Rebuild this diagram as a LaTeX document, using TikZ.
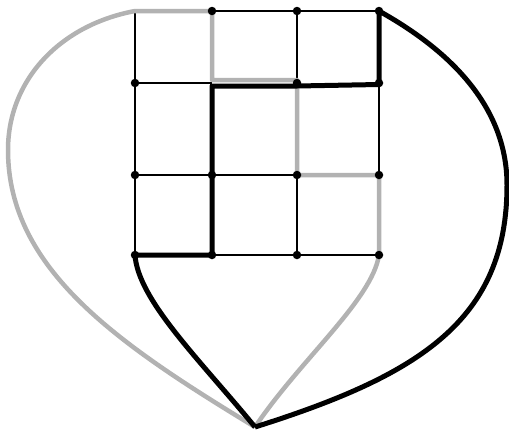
\documentclass[tikz,border=0pt]{standalone}
\usetikzlibrary{calc}
\begin{document}
\begin{tikzpicture}[x=1pt, y=-1pt,
    thin edge/.style={line width=2.2pt},
    black path/.style={line width=5pt, line join=round},
    gray path/.style={line width=4.5pt, color=gray!60, line join=round},
    dot/.style={circle, fill, inner sep=0pt, minimum size=8.5pt},
]
    \useasboundingbox (0,0) rectangle (509,432);
    % grid vertices
    \foreach \c/\x in {0/135, 1/212, 2/297, 3/379}
        \foreach \r/\y in {0/11, 1/83, 2/175, 3/255}
            \coordinate (v\c\r) at (\x,\y);
    \coordinate (bot) at (255,427);
    \coordinate (lft) at (8,150);
    \coordinate (rgt) at (507,185);

    % thin grid edges
    \foreach \a/\b in {v10/v20, v20/v30, v01/v11, v02/v12, v12/v22, v13/v23, v23/v33,
                       v00/v01, v01/v02, v02/v03, v20/v21, v22/v23, v31/v32}
        \draw[thin edge] (\a) -- (\b);

    % gray cycle
    \draw[gray path] (bot) .. controls (120,345) and (8,270) .. (lft)
        .. controls (8,80) and (60,25) .. (v00) -- (v10)
        -- ([yshift=3pt]v11) -- ([yshift=3pt]v21) -- (v22) -- (v32) -- (v33)
        .. controls (372,300) and (300,360) .. (bot);

    % black cycle
    \draw[black path] (bot) .. controls (200,360) and (138,300) .. (v03) -- (v13) -- (v12)
        -- ([yshift=-3pt]v11) -- ([yshift=-3pt]v21) -- ([yshift=-1.5pt]v31) -- (v30)
        .. controls (440,45) and (507,100) .. (rgt)
        .. controls (507,320) and (420,375) .. (bot);

    \foreach \v in {v10, v20, v30, v01, v21, v31, v02, v12, v22, v32, v03, v13, v23, v33}
        \node[dot] (d\v) at (\v) {};
\end{tikzpicture}
\end{document}
